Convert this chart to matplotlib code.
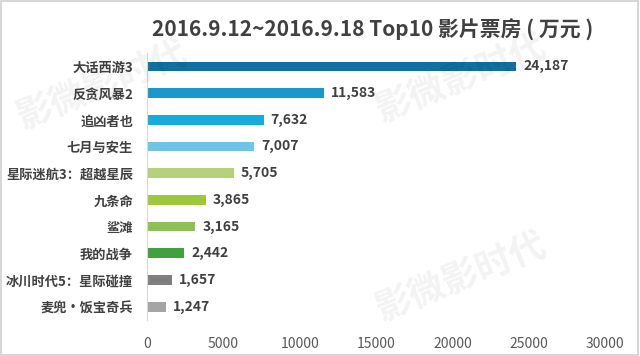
import matplotlib.pyplot as plt
from matplotlib.patches import Rectangle

plt.rcParams['font.family'] = ['Noto Sans CJK SC', 'DejaVu Sans']

# 影片与票房（万元）
films = ["大话西游3", "反贪风暴2", "追凶者也", "七月与安生", "星际迷航3：超越星辰",
         "九条命", "鲨滩", "我的战争", "冰川时代5：星际碰撞", "麦兜·饭宝奇兵"]
box_office = [24187, 11583, 7632, 7007, 5705, 3865, 3165, 2442, 1657, 1247]
bar_colors = ["#10709f", "#1a98cc", "#17aadc", "#6fc3e6", "#b6d17c",
              "#9dc73d", "#8dc153", "#42a040", "#7f7f7f", "#a5a5a5"]
x_ticks = [0, 5000, 10000, 15000, 20000, 25000, 30000]

fig = plt.figure(figsize=(6.4, 3.56), dpi=100)
ax = fig.add_axes([0.2297, 0.101, 0.7156, 0.750])

pos = list(range(len(films)))
ax.barh(pos, box_office, height=0.36, color=bar_colors)
for p, v in zip(pos, box_office):
    ax.text(v + 450, p, f"{v:,}", va='center', ha='left', fontsize=10,
            fontweight='bold', color='#404040')

ax.set_ylim(len(films) - 0.5, -0.5)
ax.set_xlim(0, 30000)
ax.set_xticks(x_ticks)
ax.set_xticklabels([str(t) for t in x_ticks], fontsize=10, color='#595959')
ax.set_yticks(pos)
ax.set_yticklabels(films, fontsize=9.5, fontweight='bold', color='#404040')
ax.tick_params(axis='both', length=0)
ax.tick_params(axis='y', pad=10)
ax.tick_params(axis='x', pad=12)
for s in ['top', 'right', 'bottom']:
    ax.spines[s].set_visible(False)
ax.spines['left'].set_color('#d9d9d9')

fig.text(0.582, 0.915, "2016.9.12~2016.9.18 Top10 影片票房 ( 万元 )", ha='center', va='center',
         fontsize=15, fontweight='bold', color='#404040')

# 水印
for (x, y) in [(0.16, 0.76), (0.72, 0.78), (0.72, 0.22)]:
    fig.text(x, y, "影微影时代", ha='center', va='center', fontsize=26, fontweight='bold',
             color='#000000', alpha=0.05, rotation=22)

fig.patches.append(Rectangle((0.002, 0.003), 0.995, 0.994, transform=fig.transFigure,
                             fill=False, edgecolor='#d0d0d0', linewidth=1.2))

fig.savefig("out.png", dpi=100)
